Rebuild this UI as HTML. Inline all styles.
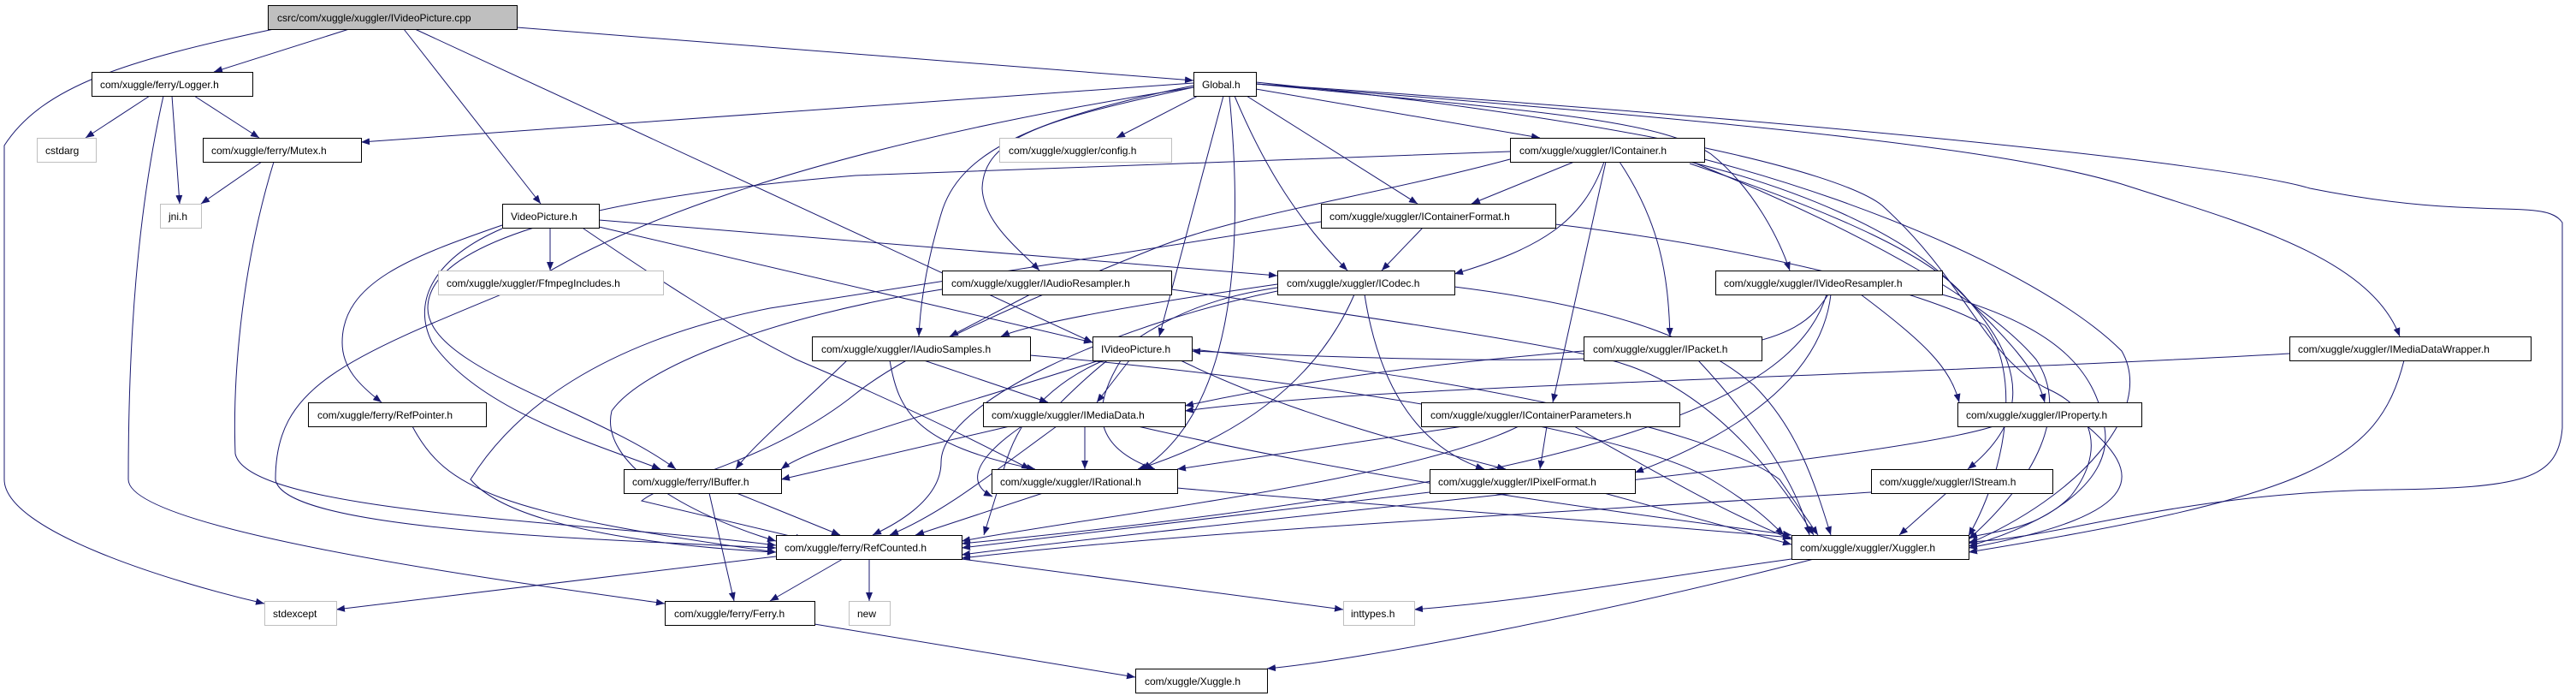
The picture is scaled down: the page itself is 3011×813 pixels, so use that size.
<!DOCTYPE html>
<html><head><meta charset="utf-8"><style>
html,body{margin:0;padding:0;background:#fff;}
svg{display:block}
text{font-family:"Liberation Sans",sans-serif;font-size:12px;fill:#000}
.e{fill:none;stroke:#191970;stroke-width:1;marker-end:url(#a)}
.n{fill:#fff;stroke:#000;stroke-width:1}
.g{fill:#fff;stroke:#bfbfbf;stroke-width:1}
</style></head><body>
<svg width="3011" height="813" viewBox="0 0 3011 813" xmlns="http://www.w3.org/2000/svg">
<defs><marker id="a" markerWidth="10" markerHeight="8" refX="10" refY="4" orient="auto" markerUnits="userSpaceOnUse"><path d="M0,0 L10,4 L0,8 z" fill="#191970"/></marker></defs>
<g>
<path class="e" d="M408,34 L250,84"/>
<path class="e" d="M472,34 L632,238"/>
<path class="e" d="M485,34 L1277,400"/>
<path class="e" d="M604,32 L1395,94"/>
<path class="e" d="M320,34 C150,70 50,100 5,170 L5,560 C5,620 200,680 309,705"/>
<path class="e" d="M175,112 L100,161"/>
<path class="e" d="M201,112 L210,238"/>
<path class="e" d="M227,112 L303,161"/>
<path class="e" d="M191,112 C160,250 150,400 150,560 C150,620 600,680 777,705"/>
<path class="e" d="M306,189 L235,238"/>
<path class="e" d="M320,189 C280,320 272,450 275,530 C290,600 700,610 907,637"/>
<path class="e" d="M1395,97 L422,166"/>
<path class="e" d="M1400,112 L1305,161"/>
<path class="e" d="M1468,104 L1800,161"/>
<path class="e" d="M1457,112 L1657,238"/>
<path class="e" d="M1443,112 C1480,200 1520,260 1575,316"/>
<path class="e" d="M1430,112 L1355,393"/>
<path class="e" d="M1395,100 C1200,140 1120,180 1100,250 C1085,300 1076,350 1074,393"/>
<path class="e" d="M1395,102 C1220,140 1150,160 1148,220 C1150,260 1190,290 1215,316"/>
<path class="e" d="M1437,112 C1455,300 1440,480 1335,548"/>
<path class="e" d="M1395,102 C900,180 700,280 620,330 C400,420 322,450 322,560 C330,620 700,630 907,640"/>
<path class="e" d="M1468,98 C1800,130 1940,140 2000,180 C2050,220 2080,280 2092,316"/>
<path class="e" d="M1468,98 C2000,140 2330,170 2480,215 C2620,260 2770,300 2805,393"/>
<path class="e" d="M1468,98 C2100,140 2600,190 2700,220 C2900,260 2975,230 2995,260 L2995,500 C2990,560 2950,570 2790,572 C2550,575 2400,630 2301,633"/>
<path class="e" d="M1468,96 C1900,140 2150,200 2200,240 C2300,330 2320,420 2395,455 C2450,480 2460,530 2420,580 C2380,620 2330,620 2301,628"/>
<path class="e" d="M1765,177 L1000,205 C700,230 500,280 500,360 C500,430 700,480 790,548"/>
<path class="e" d="M1765,186 C1600,230 1450,250 1350,290 C1150,370 1050,420 1000,460 C900,540 780,560 750,585 L940,630"/>
<path class="e" d="M1840,189 L1720,238"/>
<path class="e" d="M1875,189 C1850,260 1800,290 1700,320"/>
<path class="e" d="M1877,189 L1815,470"/>
<path class="e" d="M1893,189 C1940,260 1950,320 1952,393"/>
<path class="e" d="M1975,189 C2100,220 2220,270 2280,330 C2350,400 2380,430 2390,470"/>
<path class="e" d="M1975,191 C2150,250 2260,300 2300,350 C2380,440 2360,500 2300,548"/>
<path class="e" d="M1980,190 C2200,280 2330,360 2380,420 C2420,480 2380,560 2301,630"/>
<path class="e" d="M1992,186 C2200,240 2400,330 2480,410 C2520,480 2430,580 2301,635"/>
<path class="e" d="M1818,262 C2050,290 2250,340 2320,380 C2360,430 2350,540 2301,626"/>
<path class="e" d="M1663,266 L1615,316"/>
<path class="e" d="M1544,259 C1400,280 1100,330 900,360 C700,400 600,480 550,560 C600,620 800,640 907,645"/>
<path class="e" d="M643,266 L643,316"/>
<path class="e" d="M700,257 L1493,322"/>
<path class="e" d="M700,265 L1277,400"/>
<path class="e" d="M587,263 C480,300 400,330 400,400 C400,430 420,450 446,470"/>
<path class="e" d="M587,267 C510,300 480,350 505,400 C560,480 700,520 772,548"/>
<path class="e" d="M682,267 C760,320 850,380 931,420 C1050,470 1150,520 1204,548"/>
<path class="e" d="M1493,332 C1300,360 1200,380 1170,393"/>
<path class="e" d="M1493,336 C1400,350 1330,380 1240,470 C1150,520 1120,560 1160,580"/>
<path class="e" d="M1583,344 C1550,420 1480,500 1330,548"/>
<path class="e" d="M1595,344 C1610,440 1650,520 1735,548"/>
<path class="e" d="M1700,335 C1900,360 1990,400 2050,450 C2100,500 2120,560 2140,625"/>
<path class="e" d="M1493,340 C1300,380 1100,470 1100,540 C1100,590 1030,620 1020,625"/>
<path class="e" d="M1369,338 C1600,370 1800,400 1880,420 C2000,450 2080,560 2120,625"/>
<path class="e" d="M1204,344 L1110,393"/>
<path class="e" d="M1101,338 C900,370 750,430 715,480 C700,540 800,600 907,632"/>
<path class="e" d="M1080,421 L1225,470"/>
<path class="e" d="M1040,421 C1050,480 1070,520 1210,548"/>
<path class="e" d="M990,421 C940,470 880,520 860,548"/>
<path class="e" d="M1204,415 C1500,440 1900,500 2000,560 C2050,590 2070,610 2085,625"/>
<path class="e" d="M1320,421 L1282,470"/>
<path class="e" d="M1380,421 C1500,480 1650,520 1760,548"/>
<path class="e" d="M1285,421 C1100,480 950,520 913,548"/>
<path class="e" d="M1290,421 C1200,460 1180,520 1170,560 L1150,625"/>
<path class="e" d="M1393,408 C1700,440 2000,500 2080,560 L2125,625"/>
<path class="e" d="M1310,421 C1280,470 1270,520 1350,548"/>
<path class="e" d="M1851,410 C1600,430 1450,460 1385,474"/>
<path class="e" d="M1985,421 C2040,480 2100,560 2115,625"/>
<path class="e" d="M1268,498 L1268,548"/>
<path class="e" d="M1180,498 L913,560"/>
<path class="e" d="M1235,498 C1150,560 1100,600 1040,625"/>
<path class="e" d="M1330,498 C1600,560 1900,600 2094,625"/>
<path class="e" d="M1710,498 L1376,548"/>
<path class="e" d="M1808,498 L1800,548"/>
<path class="e" d="M1775,498 C1650,560 1300,600 1124,632"/>
<path class="e" d="M1840,498 C1950,560 2020,600 2094,630"/>
<path class="e" d="M1219,576 L1070,625"/>
<path class="e" d="M1376,570 C1600,590 1900,610 2094,628"/>
<path class="e" d="M1671,575 L1124,640"/>
<path class="e" d="M1875,576 L2094,636"/>
<path class="e" d="M2137,344 C2100,400 2050,440 1393,410"/>
<path class="e" d="M2140,344 C2130,430 2050,500 1911,552"/>
<path class="e" d="M2175,344 C2250,400 2280,430 2290,470"/>
<path class="e" d="M2270,344 C2400,380 2450,430 2460,500 C2470,560 2400,610 2301,638"/>
<path class="e" d="M2135,344 C2100,460 1900,560 1124,635"/>
<path class="e" d="M2676,413 C2200,440 1600,450 1385,480"/>
<path class="e" d="M2810,421 C2780,540 2700,580 2301,645"/>
<path class="e" d="M2330,498 C2200,540 1500,600 1124,648"/>
<path class="e" d="M2440,498 C2500,550 2520,600 2301,640"/>
<path class="e" d="M2187,575 C1800,600 1400,620 1124,652"/>
<path class="e" d="M2275,576 L2220,625"/>
<path class="e" d="M829,576 L858,702"/>
<path class="e" d="M861,576 L982,625"/>
<path class="e" d="M482,498 C520,570 580,600 907,645"/>
<path class="e" d="M907,650 L393,712"/>
<path class="e" d="M985,653 L900,702"/>
<path class="e" d="M1016,653 L1016,702"/>
<path class="e" d="M1124,653 L1570,712"/>
<path class="e" d="M2094,653 C1900,680 1800,700 1653,712"/>
<path class="e" d="M2120,653 C1900,710 1600,770 1481,781"/>
<path class="e" d="M952,729 L1327,791"/>
</g>
<rect x="313.5" y="6.5" width="291" height="28" fill="#bfbfbf" stroke="#000"/><text x="324" y="25">csrc/com/xuggle/xuggler/IVideoPicture.cpp</text>
<rect class="n" x="107.5" y="84.5" width="188" height="28"/><text x="117" y="103">com/xuggle/ferry/Logger.h</text>
<rect class="g" x="43.5" y="161.5" width="69" height="28"/><text x="53" y="180">cstdarg</text>
<rect class="n" x="237.5" y="161.5" width="185" height="28"/><text x="247" y="180">com/xuggle/ferry/Mutex.h</text>
<rect class="g" x="187.5" y="238.5" width="48" height="28"/><text x="197" y="257">jni.h</text>
<rect class="n" x="587.5" y="238.5" width="113" height="28"/><text x="597" y="257">VideoPicture.h</text>
<rect class="g" x="512.5" y="316.5" width="263" height="28"/><text x="522" y="335">com/xuggle/xuggler/FfmpegIncludes.h</text>
<rect class="n" x="360.5" y="470.5" width="208" height="28"/><text x="371" y="489">com/xuggle/ferry/RefPointer.h</text>
<rect class="n" x="729.5" y="548.5" width="184" height="28"/><text x="739" y="567">com/xuggle/ferry/IBuffer.h</text>
<rect class="n" x="907.5" y="625.5" width="217" height="28"/><text x="917" y="644">com/xuggle/ferry/RefCounted.h</text>
<rect class="g" x="309.5" y="702.5" width="84" height="28"/><text x="319" y="721">stdexcept</text>
<rect class="n" x="777.5" y="702.5" width="175" height="28"/><text x="788" y="721">com/xuggle/ferry/Ferry.h</text>
<rect class="n" x="1395.5" y="84.5" width="73" height="28"/><text x="1405" y="103">Global.h</text>
<rect class="g" x="1168.5" y="161.5" width="201" height="28"/><text x="1179" y="180">com/xuggle/xuggler/config.h</text>
<rect class="n" x="1765.5" y="161.5" width="227" height="28"/><text x="1776" y="180">com/xuggle/xuggler/IContainer.h</text>
<rect class="n" x="1544.5" y="238.5" width="274" height="28"/><text x="1554" y="257">com/xuggle/xuggler/IContainerFormat.h</text>
<rect class="n" x="1101.5" y="316.5" width="268" height="28"/><text x="1112" y="335">com/xuggle/xuggler/IAudioResampler.h</text>
<rect class="n" x="1493.5" y="316.5" width="207" height="28"/><text x="1504" y="335">com/xuggle/xuggler/ICodec.h</text>
<rect class="n" x="949.5" y="393.5" width="255" height="28"/><text x="960" y="412">com/xuggle/xuggler/IAudioSamples.h</text>
<rect class="n" x="1277.5" y="393.5" width="116" height="28"/><text x="1287" y="412">IVideoPicture.h</text>
<rect class="n" x="1851.5" y="393.5" width="208" height="28"/><text x="1862" y="412">com/xuggle/xuggler/IPacket.h</text>
<rect class="n" x="1149.5" y="470.5" width="236" height="28"/><text x="1159" y="489">com/xuggle/xuggler/IMediaData.h</text>
<rect class="n" x="1661.5" y="470.5" width="302" height="28"/><text x="1672" y="489">com/xuggle/xuggler/IContainerParameters.h</text>
<rect class="n" x="1159.5" y="548.5" width="217" height="28"/><text x="1169" y="567">com/xuggle/xuggler/IRational.h</text>
<rect class="n" x="1671.5" y="548.5" width="240" height="28"/><text x="1681" y="567">com/xuggle/xuggler/IPixelFormat.h</text>
<rect class="g" x="992.5" y="702.5" width="48" height="28"/><text x="1002" y="721">new</text>
<rect class="g" x="1570.5" y="702.5" width="83" height="28"/><text x="1579" y="721">inttypes.h</text>
<rect class="n" x="1327.5" y="781.5" width="154" height="28"/><text x="1338" y="800">com/xuggle/Xuggle.h</text>
<rect class="n" x="2005.5" y="316.5" width="265" height="28"/><text x="2015" y="335">com/xuggle/xuggler/IVideoResampler.h</text>
<rect class="n" x="2676.5" y="393.5" width="282" height="28"/><text x="2686" y="412">com/xuggle/xuggler/IMediaDataWrapper.h</text>
<rect class="n" x="2288.5" y="470.5" width="215" height="28"/><text x="2298" y="489">com/xuggle/xuggler/IProperty.h</text>
<rect class="n" x="2187.5" y="548.5" width="212" height="28"/><text x="2197" y="567">com/xuggle/xuggler/IStream.h</text>
<rect class="n" x="2094.5" y="625.5" width="207" height="28"/><text x="2104" y="644">com/xuggle/xuggler/Xuggler.h</text>
</svg>
</body></html>
